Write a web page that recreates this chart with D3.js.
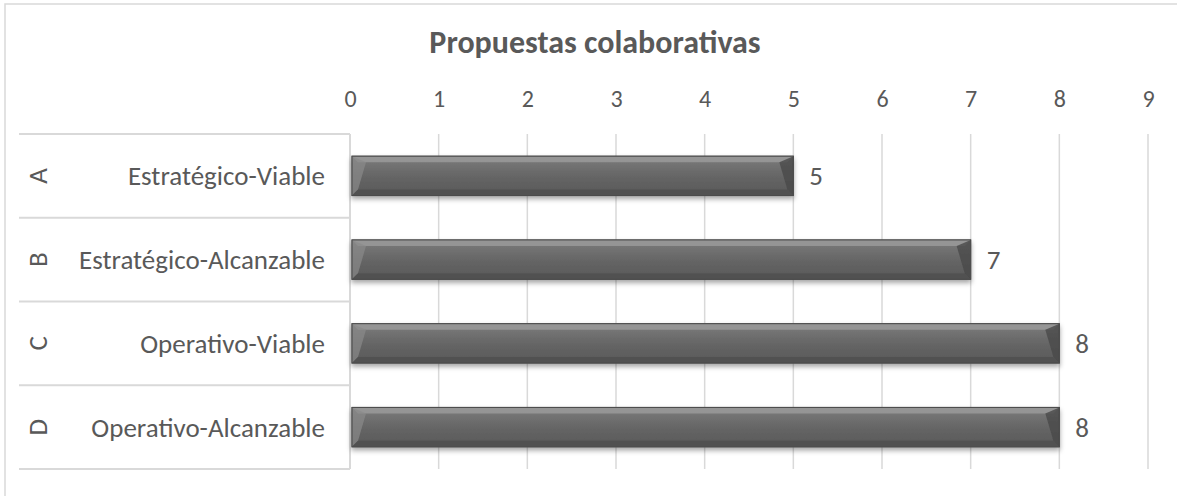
<!DOCTYPE html>
<html>
<head>
<meta charset="utf-8">
<script src="https://cdn.jsdelivr.net/npm/d3@7"></script>
<style>
  body { margin: 0; background: #fff; }
  svg { display: block; }
  text { font-family: Carlito, Calibri, "Liberation Sans Narrow", Lato, sans-serif; fill: #595959; }
</style>
</head>
<body>
<svg id="chart" width="1177" height="496"></svg>
<script>
(function () {
  'use strict';

  // data
  var groups = ['A', 'B', 'C', 'D'];
  var categories = ['Estratégico-Viable', 'Estratégico-Alcanzable', 'Operativo-Viable', 'Operativo-Alcanzable'];
  var values = [5, 7, 8, 8];
  var ticks = [0, 1, 2, 3, 4, 5, 6, 7, 8, 9];
  var title = 'Propuestas colaborativas';

  var width = 1177, height = 496;
  var left = 350, right = 1148, top = 134, bottom = 469;

  var svg = d3.select('#chart');
  var defs = svg.append('defs');

  var grad = defs.append('linearGradient').attr('id', 'barGrad')
    .attr('x1', 0).attr('y1', 0).attr('x2', 0).attr('y2', 1);
  grad.append('stop').attr('offset', '0%').attr('stop-color', '#7c7c7c');
  grad.append('stop').attr('offset', '50%').attr('stop-color', '#666');
  grad.append('stop').attr('offset', '100%').attr('stop-color', '#585858');

  var shadow = defs.append('filter').attr('id', 'shadow')
    .attr('x', '-5%').attr('y', '-30%').attr('width', '110%').attr('height', '170%');
  shadow.append('feDropShadow').attr('dx', 0).attr('dy', 3).attr('stdDeviation', 2.5)
    .attr('flood-color', '#000').attr('flood-opacity', 0.35);

  // chart frame
  svg.append('rect')
    .attr('x', 5).attr('y', 4).attr('width', width + 10).attr('height', height + 10)
    .attr('fill', '#fff').attr('stroke', '#d9d9d9').attr('stroke-width', 1.5);

  var x = d3.scaleLinear().domain([0, 9]).range([left, right]);
  var y = d3.scaleBand().domain(categories).range([top, bottom]).paddingInner(0.53).paddingOuter(0.265);
  var rows = d3.scaleBand().domain(categories).range([top, bottom]);

  // title
  svg.append('text')
    .attr('x', 595).attr('y', 53)
    .attr('text-anchor', 'middle')
    .style('font-size', '32px').style('font-weight', 'bold')
    .text(title);

  // gridlines
  svg.append('g').selectAll('line')
    .data(ticks.slice(1))
    .enter().append('line')
    .attr('x1', function (d) { return x(d); }).attr('x2', function (d) { return x(d); })
    .attr('y1', top).attr('y2', bottom)
    .attr('stroke', '#d9d9d9').attr('stroke-width', 1.5);

  // top axis labels
  var xAxis = d3.axisTop(x).tickValues(ticks).tickSize(0).tickPadding(0);
  var gx = svg.append('g').attr('transform', 'translate(0,' + 107 + ')').call(xAxis);
  gx.select('.domain').remove();
  gx.selectAll('text').style('font-size', '24px').style('font-family', null).attr('fill', null);
  gx.attr('font-family', null).attr('font-size', null);

  // category table lines
  var bounds = categories.map(function (c) { return rows(c); }).concat([bottom]);
  svg.append('g').selectAll('line')
    .data(bounds)
    .enter().append('line')
    .attr('x1', 19).attr('x2', left)
    .attr('y1', function (d) { return d; }).attr('y2', function (d) { return d; })
    .attr('stroke', '#d9d9d9').attr('stroke-width', 2);

  svg.append('line')
    .attr('x1', left).attr('x2', left).attr('y1', top).attr('y2', bottom)
    .attr('stroke', '#d9d9d9').attr('stroke-width', 2);

  // category labels
  svg.append('g').selectAll('text')
    .data(categories)
    .enter().append('text')
    .attr('x', 325)
    .attr('y', function (d) { return rows(d) + rows.bandwidth() / 2; })
    .attr('dy', '0.35em')
    .attr('text-anchor', 'end')
    .style('font-size', '27px')
    .text(function (d) { return d; });

  svg.append('g').selectAll('text')
    .data(groups)
    .enter().append('text')
    .attr('transform', function (d, i) {
      return 'translate(38,' + (rows(categories[i]) + rows.bandwidth() / 2) + ') rotate(-90)';
    })
    .attr('dy', '0.35em')
    .attr('text-anchor', 'middle')
    .style('font-size', '27px')
    .text(function (d) { return d; });

  // bars
  var bars = svg.append('g').selectAll('g')
    .data(values)
    .enter().append('g')
    .attr('filter', 'url(#shadow)');

  var x0 = x(0) + 2;
  var bh = y.bandwidth();
  var bv = 6;

  bars.append('rect')
    .attr('x', x0)
    .attr('y', function (d, i) { return y(categories[i]); })
    .attr('width', function (d) { return x(d) - x0; })
    .attr('height', bh)
    .attr('fill', 'url(#barGrad)')
    .attr('stroke', '#4d4d4d').attr('stroke-width', 1);

  // bevel: top, left, right, bottom
  bars.append('polygon')
    .attr('points', function (d, i) {
      var t = y(categories[i]), r = x(d);
      return [[x0, t], [r, t], [r - bv, t + bv], [x0 + bv, t + bv]].join(' ');
    })
    .attr('fill', '#9a9a9a').attr('opacity', 0.85);

  bars.append('polygon')
    .attr('points', function (d, i) {
      var t = y(categories[i]);
      return [[x0, t], [x0 + bv + 8, t + bv], [x0 + bv, t + bh - bv], [x0, t + bh]].join(' ');
    })
    .attr('fill', '#8a8a8a').attr('opacity', 0.7);

  bars.append('polygon')
    .attr('points', function (d, i) {
      var t = y(categories[i]), r = x(d);
      return [[r, t], [r, t + bh], [r - bv, t + bh - bv], [r - bv - 8, t + bv]].join(' ');
    })
    .attr('fill', '#4a4a4a').attr('opacity', 0.8);

  bars.append('polygon')
    .attr('points', function (d, i) {
      var t = y(categories[i]), r = x(d);
      return [[x0, t + bh], [r, t + bh], [r - bv, t + bh - bv], [x0 + bv, t + bh - bv]].join(' ');
    })
    .attr('fill', '#4f4f4f').attr('opacity', 0.8);

  bars.append('rect')
    .attr('x', x0)
    .attr('y', function (d, i) { return y(categories[i]); })
    .attr('width', function (d) { return x(d) - x0; })
    .attr('height', bh)
    .attr('fill', 'none')
    .attr('stroke', '#4d4d4d').attr('stroke-width', 1);

  // value labels
  svg.append('g').selectAll('text')
    .data(values)
    .enter().append('text')
    .attr('x', function (d) { return x(d) + 16; })
    .attr('y', function (d, i) { return y(categories[i]) + bh / 2; })
    .attr('dy', '0.35em')
    .style('font-size', '27px')
    .text(function (d) { return d; });
}());
</script>
</body>
</html>
